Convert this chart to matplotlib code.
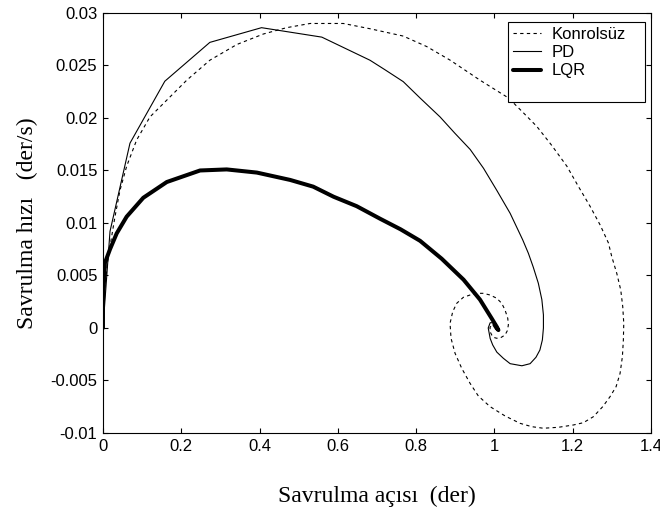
import numpy as np
import matplotlib
matplotlib.use('Agg')
import matplotlib.pyplot as plt
from matplotlib.lines import Line2D

#%% general look (matlab style figure)
plt.rcParams['font.family'] = 'Liberation Sans'
plt.rcParams['xtick.direction'] = 'in'
plt.rcParams['ytick.direction'] = 'in'
plt.rcParams['xtick.top'] = True
plt.rcParams['ytick.right'] = True

#%% data (yaw angle vs yaw rate)

#uncontrolled - dashed
x_konrolsuz = [0, 0.002, 0.0136, 0.0307, 0.0434, 0.0605, 0.086, 0.120, 0.163, 0.214, 0.273,
               0.342, 0.410, 0.469, 0.529, 0.614, 0.682, 0.767, 0.827, 0.887, 0.963,
               1.036, 1.071, 1.108, 1.146, 1.185, 1.214, 1.244, 1.270, 1.291, 1.2995,
               1.3123, 1.3225, 1.3276, 1.3302, 1.3292, 1.3267, 1.3208, 1.3106, 1.2952, 1.2766,
               1.2526, 1.2271, 1.2015, 1.1632, 1.1248, 1.0952, 1.0653, 1.0270, 0.9887, 0.9588,
               0.9376, 0.9163, 0.8993, 0.8890, 0.8865, 0.8933, 0.9036, 0.9205, 0.9376, 0.9547,
               0.9716, 0.9887, 1.0058, 1.0185, 1.0270, 1.0339, 1.0355, 1.0329, 1.0270, 1.0160,
               1.0058, 0.9971, 0.9930, 0.9887, 0.9887, 0.9956, 1.0033]
y_konrolsuz = [0, 0.0030, 0.0068, 0.0106, 0.0131, 0.0154, 0.0179, 0.0201, 0.0217, 0.0236, 0.0255,
               0.0270, 0.0280, 0.0286, 0.0290, 0.0290, 0.0285, 0.0278, 0.0268, 0.0255, 0.0236,
               0.0219, 0.0206, 0.0192, 0.0174, 0.0154, 0.0135, 0.0116, 0.0098, 0.0081, 0.0068,
               0.00521, 0.00362, 0.00203, 0.00044, -0.00114, -0.00273, -0.00432, -0.00559, -0.00654, -0.00749,
               -0.00845, -0.00902, -0.00924, -0.00946, -0.00955, -0.0094, -0.00908, -0.00838, -0.00749, -0.00648,
               -0.00527, -0.00384, -0.00241, -0.00098, 0.00044, 0.00155, 0.00235, 0.00292, 0.00314, 0.0033,
               0.0033, 0.00314, 0.00283, 0.00235, 0.00171, 0.00092, 0.00029, -0.00025, -0.00067, -0.00092,
               -0.00098, -0.00089, -0.00067, -0.00035, 0.00007, 0.00038, 0.00029]

#PD controller - thin solid
x_pd = [0, 0.018, 0.069, 0.158, 0.273, 0.405, 0.559, 0.682, 0.720, 0.767, 0.810, 0.861,
        0.899, 0.938, 0.972, 1.006, 1.040, 1.072, 1.0866, 1.099, 1.112, 1.121, 1.125,
        1.125, 1.1223, 1.116, 1.106, 1.091, 1.070, 1.040, 1.0227, 1.006, 0.9955,
        0.989, 0.984, 0.989, 0.997, 1.003]
y_pd = [0, 0.0092, 0.0176, 0.0235, 0.0272, 0.0286, 0.0277, 0.0255, 0.0246, 0.02346, 0.0219, 0.0201,
        0.01854, 0.0170, 0.01521, 0.0131, 0.01092, 0.0084, 0.00711, 0.0058, 0.00426, 0.0027, 0.00124,
        0.0000, -0.00114, -0.0021, -0.00279, -0.0034, -0.0036, -0.0034, -0.00289, -0.0023, -0.00162,
        -0.0010, 0.0000, 0.0005, 0.0005, 0.0001]

#LQR controller - thick solid
x_lqr = [0, 0.0, 0.005, 0.018, 0.035, 0.0605, 0.103, 0.163, 0.248, 0.316, 0.393, 0.478,
         0.537, 0.589, 0.648, 0.708, 0.760, 0.810, 0.865, 0.921, 0.963, 0.993, 1.006,
         1.010, 1.005, 1.0]
y_lqr = [0, 0.0025, 0.0062, 0.0075, 0.0090, 0.0106, 0.0124, 0.0139, 0.0150, 0.0151, 0.0148, 0.0141,
         0.01346, 0.0125, 0.0116, 0.0104, 0.0094, 0.0083, 0.0066, 0.0046, 0.0027, 0.0009, 0.0001,
         -0.0002, 0.0, 0.0003]

legend_labels = ['Konrolsüz', 'PD', 'LQR']
x_ticks = [0, 0.2, 0.4, 0.6, 0.8, 1, 1.2, 1.4]
x_ticklabels = ['0', '0.2', '0.4', '0.6', '0.8', '1', '1.2', '1.4']
y_ticks = [-0.01, -0.005, 0, 0.005, 0.01, 0.015, 0.02, 0.025, 0.03]
y_ticklabels = ['-0.01', '-0.005', '0', '0.005', '0.01', '0.015', '0.02', '0.025', '0.03']

#%% plot

fig = plt.figure(figsize=(6.6, 5.13), dpi=100)
ax = fig.add_axes([0.156, 0.156, 0.8305, 0.8187])

l1, = ax.plot(x_konrolsuz, y_konrolsuz, color='black', linewidth=0.8, linestyle=(0, (3, 3)))
l2, = ax.plot(x_pd, y_pd, color='black', linewidth=0.8)
l3, = ax.plot(x_lqr, y_lqr, color='black', linewidth=2.9, solid_capstyle='round',
              solid_joinstyle='round')

ax.set_xlim(0, 1.4)
ax.set_ylim(-0.01, 0.03)
ax.set_xticks(x_ticks)
ax.set_xticklabels(x_ticklabels)
ax.set_yticks(y_ticks)
ax.set_yticklabels(y_ticklabels)
ax.tick_params(which='major', length=3.6, width=0.8, labelsize=12, pad=4, colors='black')
for s in ax.spines.values():
    s.set_linewidth(0.8)

ax.set_xlabel('Savrulma açısı  (der)', family='Liberation Serif', fontsize=17, labelpad=23)
ax.set_ylabel('Savrulma hızı   (der/s)', family='Liberation Serif', fontsize=17, labelpad=9)

#empty entry at the end gives the taller matlab legend box
blank = Line2D([], [], linestyle='none')
leg = ax.legend([l1, l2, l3, blank], legend_labels + [''], loc='upper left',
                bbox_to_anchor=(0.739, 0.5, 0.25, 0.479), mode='expand', borderaxespad=0,
                fancybox=False, edgecolor='black', framealpha=1, fontsize=12,
                labelspacing=0.2, handlelength=1.7, handletextpad=0.6, borderpad=0.3)
leg.get_frame().set_linewidth(0.8)

plt.savefig('out.png', dpi=100)
